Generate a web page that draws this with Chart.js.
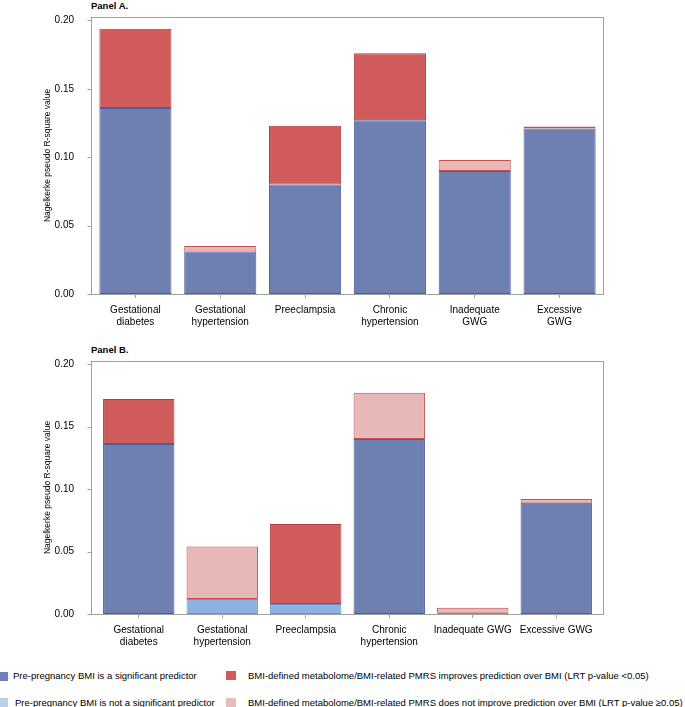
<!DOCTYPE html>
<html>
<head>
<meta charset="utf-8">
<script src="https://cdn.jsdelivr.net/npm/chart.js@4"></script>
<style>
  body { margin: 0; background: #fff; font-family: "Liberation Sans", Arial, sans-serif; }
  #wrap { position: relative; width: 685px; height: 707px; overflow: hidden; }
  canvas { position: absolute; left: 0; }
  .ptitle { position: absolute; left: 91px; font-weight: bold; font-size: 9.5px; line-height: 11px; color: #000; }
  .sw { position: absolute; width: 9px; height: 9px; }
  .lt { position: absolute; font-size: 9.5px; line-height: 11px; color: #000; white-space: nowrap; }
</style>
</head>
<body>
<div id="wrap">
  <div class="ptitle" style="top:0px">Panel A.</div>
  <canvas id="panelA" width="685" height="335" style="top:0px"></canvas>
  <div class="ptitle" style="top:344px">Panel B.</div>
  <canvas id="panelB" width="685" height="325" style="top:340px"></canvas>

  <div class="sw" style="left:-1px;top:672px;background:#6e80b6"></div>
  <div class="lt" style="left:13px;top:670px">Pre-pregnancy BMI is a significant predictor</div>
  <div class="sw" style="left:-1px;top:698px;background:#b9d0ea"></div>
  <div class="lt" style="left:15px;top:697px">Pre-pregnancy BMI is not a significant predictor</div>
  <div class="sw" style="left:226px;top:671px;width:10px;background:#d25a5a"></div>
  <div class="lt" style="left:248px;top:670px">BMI-defined metabolome/BMI-related PMRS improves prediction over BMI (LRT p-value &lt;0.05)</div>
  <div class="sw" style="left:226px;top:698px;width:10px;background:#e9bcbc"></div>
  <div class="lt" style="left:248px;top:697px">BMI-defined metabolome/BMI-related PMRS does not improve prediction over BMI (LRT p-value ≥0.05)</div>
</div>
<script>
// categories
const categoriesA = [['Gestational', 'diabetes'], ['Gestational', 'hypertension'], 'Preeclampsia',
    ['Chronic', 'hypertension'], ['Inadequate', 'GWG'], ['Excessive', 'GWG']];
const categoriesB = [['Gestational', 'diabetes'], ['Gestational', 'hypertension'], 'Preeclampsia',
    ['Chronic', 'hypertension'], 'Inadequate GWG', 'Excessive GWG'];
const yTicks = [0, 0.05, 0.10, 0.15, 0.20];

// Panel A (stacked pieces)
const bmiSigA = [0.136, 0.031, 0.080, 0.127, 0.090, 0.121];
const bmiNotSigA = [null, null, null, null, null, null];
const pmrsSigA = [0.058, null, 0.043, 0.049, null, null];
const pmrsNotSigA = [null, 0.004, null, null, 0.008, 0.0015];

// Panel B
const bmiSigB = [0.136, null, null, 0.140, null, 0.089];
const bmiNotSigB = [null, 0.012, 0.008, null, 0.001, null];
const pmrsSigB = [0.036, null, 0.064, null, null, null];
const pmrsNotSigB = [null, 0.042, null, 0.037, 0.004, 0.003];

const seriesNames = [
    'Pre-pregnancy BMI is a significant predictor',
    'Pre-pregnancy BMI is not a significant predictor',
    'BMI-defined metabolome/BMI-related PMRS improves prediction over BMI (LRT p-value <0.05)',
    'BMI-defined metabolome/BMI-related PMRS does not improve prediction over BMI (LRT p-value ≥0.05)'
];
const fills = ['#6e7fb2', '#8db2e2', '#d05b5b', '#e6b8b8'];
const edges = ['#4f5f9d', '#6f93c8', '#b03b3b', '#c64e4e'];

const axisGray = '#a0a0a0';
const fontFamily = '"Liberation Sans", Arial, sans-serif';

// frame round the plot area plus the y tick marks on its left edge
const framePlugin = {
    id: 'frame',
    afterDatasetsDraw(chart, args, opts) {
        const ca = chart.chartArea;
        const ctx = chart.ctx;
        const l = Math.round(ca.left - opts.padL) + 0.5;
        const r = Math.round(ca.right + opts.padR) + 0.5;
        const t = Math.round(ca.top) + 0.5;
        const b = Math.round(ca.bottom) + 0.5;
        ctx.save();
        ctx.strokeStyle = axisGray;
        ctx.lineWidth = 1;
        ctx.strokeRect(l, t, r - l, b - t);
        const y = chart.scales.y;
        ctx.beginPath();
        y.ticks.forEach(tk => {
            const py = Math.round(y.getPixelForValue(tk.value)) + 0.5;
            ctx.moveTo(l - 4, py);
            ctx.lineTo(l, py);
        });
        ctx.stroke();
        ctx.restore();
    }
};

function makePanel(id, labels, data, geom) {
    const datasets = data.map((vals, i) => ({
        label: seriesNames[i],
        data: vals,
        backgroundColor: fills[i],
        borderColor: edges[i],
        borderWidth: 1,
        borderSkipped: false,
        inflateAmount: 0,
        categoryPercentage: 1,
        barPercentage: geom.barPct
    }));
    return new Chart(document.getElementById(id), {
        type: 'bar',
        data: { labels: labels, datasets: datasets },
        plugins: [framePlugin],
        options: {
            responsive: false,
            animation: false,
            layout: { padding: { top: geom.top, left: 0, right: 685 - geom.right, bottom: 0 } },
            plugins: {
                legend: { display: false },
                tooltip: { enabled: false },
                frame: { padL: geom.padL, padR: geom.padR }
            },
            scales: {
                x: {
                    stacked: true,
                    grid: { display: true, drawOnChartArea: false, drawTicks: true, tickLength: 4, offset: false, color: axisGray },
                    border: { display: false },
                    ticks: { autoSkip: false, maxRotation: 0, minRotation: 0, padding: 6, color: '#000',
                        font: { family: fontFamily, size: 10, lineHeight: 1.2 } },
                    afterFit(scale) { scale.height = geom.xh; }
                },
                y: {
                    stacked: true,
                    min: 0,
                    max: 0.2025,
                    grid: { display: false },
                    border: { display: false },
                    ticks: { padding: geom.tickPad, color: '#000',
                        font: { family: fontFamily, size: 10 },
                        callback: v => v.toFixed(2) },
                    afterBuildTicks(scale) { scale.ticks = yTicks.map(v => ({ value: v })); },
                    title: { display: true, text: 'Nagelkerke pseudo R-square value', color: '#000',
                        font: { family: fontFamily, size: 8.5 }, padding: { top: 43, bottom: 0 } },
                    afterFit(scale) { scale.width = geom.left; }
                }
            }
        }
    });
}

makePanel('panelA', categoriesA, [bmiSigA, bmiNotSigA, pmrsSigA, pmrsNotSigA],
    { top: 16, left: 93, right: 602, xh: 41, padL: 2, padR: 1, tickPad: 11, barPct: 0.85 });
makePanel('panelB', categoriesB, [bmiSigB, bmiNotSigB, pmrsSigB, pmrsNotSigB],
    { top: 21, left: 97, right: 598, xh: 51, padL: 6, padR: 5, tickPad: 15, barPct: 0.855 });
</script>
</body>
</html>
